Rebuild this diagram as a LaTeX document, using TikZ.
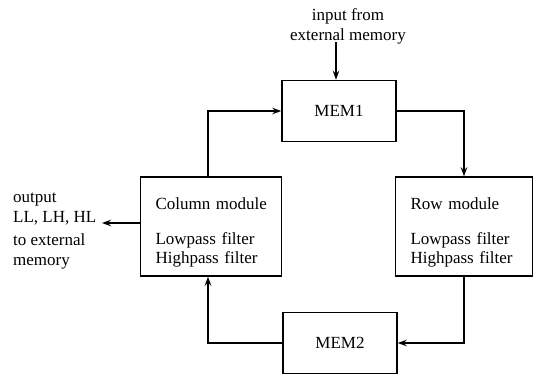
\documentclass[tikz,border=0pt]{standalone}
\usepackage{fontspec}
\setmainfont{Liberation Serif}
\usetikzlibrary{arrows.meta}
\newcommand{\toproom}{\rule{0pt}{24pt}}
\begin{document}
\begin{tikzpicture}[x=1pt,y=-1pt,
  every node/.style={font=\fontsize{17}{19.5}\selectfont},
  line/.style={line width=1.5pt},
  arr/.style={line, -{Stealth[length=9pt,width=6.5pt]}},
  membox/.style={draw, line width=1.5pt, inner sep=0pt,
    minimum width=114pt, minimum height=61pt},
  modbox/.style={draw, line width=1.5pt, inner xsep=15pt, inner ysep=0pt,
    minimum height=99pt, text width=#1, align=left},
  note/.style={inner sep=0pt}]
\useasboundingbox (0,0) rectangle (535,375);

% memories
\node[membox] (mem1) at (339,111) {MEM1};
\node[membox] (mem2) at (340,343) {MEM2};

% filter modules
\node[modbox=111pt] (col) at (211,226.5)
  {\toproom\mbox{Column module}\\[15pt]Lowpass filter\\Highpass filter};
\node[modbox=107pt] (row) at (464,226.5)
  {\toproom\mbox{Row module}\\[15pt]Lowpass filter\\Highpass filter};

% external memory in and out
\node[note, align=center] (in) at (348,26.5) {input from\\external memory};
\coordinate (inend) at (336,42);
\node[note, align=left, anchor=west] (out) at (13,231)
  {output\\LL, LH, HL\\[4pt]to external\\memory};
\coordinate (outend) at (102,223);

% data flow
\draw[arr] (inend) -- (inend |- mem1.north);
\draw[arr] (mem1.east) -| (row.north);
\draw[arr] (row.south) |- (mem2.east);
\draw[arr] (mem2.west) -| ([xshift=-3pt]col.south);
\draw[arr] ([xshift=-3pt]col.north) |- (mem1.west);
\draw[arr] ([yshift=3.5pt]col.west) -- (outend);
\end{tikzpicture}
\end{document}
